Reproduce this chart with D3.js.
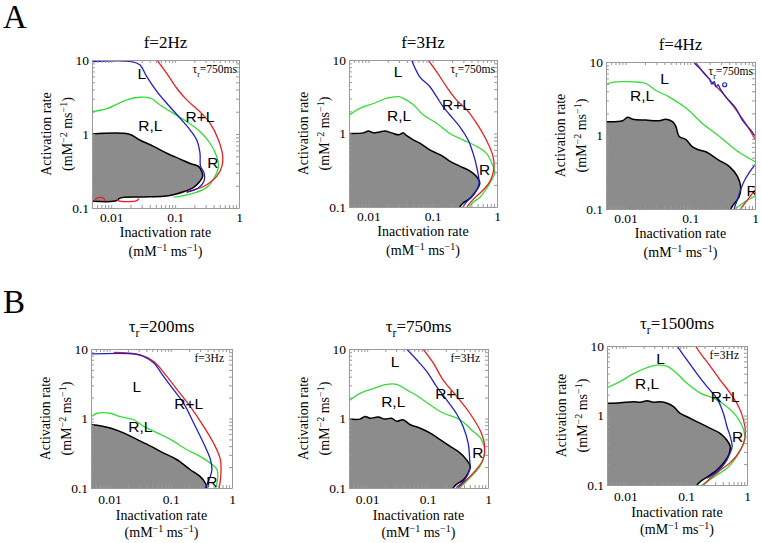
<!DOCTYPE html>
<html><head><meta charset="utf-8">
<script src="https://cdn.jsdelivr.net/npm/d3@7"></script>
<style>body{margin:0;background:#fff}svg{display:block}</style>
</head><body><svg id="c" width="761" height="543"></svg>
<script>
// ---------- data (inactivation rate, activation rate) ----------
const xTickValues = [0.01, 0.1, 1];
const xTickLabels = ["0.01", "0.1", "1"];
const yTickValues = [0.1, 1, 10];
const yTickLabels = ["0.1", "1", "10"];
const xDomain = [0.005, 1];
const yDomain = [0.1, 10];
const rowLetters = ["A", "B"];
const rowATitles = ["f=2Hz", "f=3Hz", "f=4Hz"];
const rowBTau = ["200ms", "750ms", "1500ms"];
const rowANote = "750ms";
const rowBNote = "f=3Hz";

// Panel A1 (f=2Hz)
const a1Boundary = [[0.005,1.0],[0.0187,1.0],[0.028,0.83],[0.046,0.68],[0.074,0.55],[0.12,0.458],[0.171,0.40],[0.233,0.365],[0.262,0.31],[0.27,0.267],[0.245,0.23],[0.195,0.19],[0.143,0.168],[0.094,0.151],[0.066,0.144],[0.028,0.141],[0.0138,0.136],[0.0123,0.127],[0.0109,0.123],[0.005,0.123]];
const a1Green = [[0.005,2.0],[0.0086,2.2],[0.0176,2.9],[0.028,3.14],[0.041,3.05],[0.058,2.47],[0.094,1.9],[0.152,1.47],[0.245,1.08],[0.352,0.75],[0.447,0.50],[0.477,0.365],[0.42,0.267],[0.313,0.19],[0.195,0.159],[0.12,0.144],[0.094,0.14]];
const a1Blue = [[0.005,9.5],[0.021,9.5],[0.028,8.6],[0.036,5.96],[0.052,3.74],[0.074,2.6],[0.12,1.63],[0.171,1.14],[0.218,0.83],[0.245,0.55],[0.25,0.365],[0.283,0.30],[0.283,0.23],[0.23,0.186],[0.152,0.163]];
const a1Red = [[0.052,10],[0.074,6.6],[0.106,4.15],[0.152,2.89],[0.245,2.0],[0.352,1.4],[0.477,0.83],[0.556,0.50],[0.54,0.365],[0.447,0.267],[0.313,0.206],[0.205,0.177],[0.15,0.165]];
const a1RedBump = [[0.0055,0.123],[0.0058,0.133],[0.0065,0.139],[0.0073,0.138],[0.0078,0.132],[0.008,0.123]];
const a1RedSeg = [[0.0123,0.134],[0.0128,0.126],[0.025,0.126],[0.027,0.134]];
const a1Labels = [["L",0.030,6.6],["R+L",0.245,1.72],["R,L",0.041,1.3],["R",0.39,0.41]];

// Panel A2 (f=3Hz)
const a2Boundary = [[0.005,1.0],[0.0084,1.02],[0.01,1.08],[0.012,1.02],[0.015,1.05],[0.018,1.08],[0.023,1.02],[0.03,0.96],[0.035,1.02],[0.039,0.94],[0.05,0.82],[0.063,0.74],[0.09,0.60],[0.115,0.54],[0.145,0.49],[0.184,0.42],[0.263,0.36],[0.377,0.31],[0.48,0.26],[0.54,0.21],[0.45,0.155],[0.377,0.13],[0.295,0.113],[0.263,0.1]];
const a2Green = [[0.005,1.78],[0.0074,2.2],[0.012,2.56],[0.019,3.0],[0.03,3.17],[0.035,3.0],[0.05,2.46],[0.071,1.8],[0.115,1.38],[0.184,1.0],[0.295,0.82],[0.48,0.67],[0.68,0.54],[0.867,0.36],[0.92,0.29],[0.72,0.19],[0.54,0.135],[0.424,0.116],[0.37,0.1]];
const a2Blue = [[0.047,10],[0.063,5.9],[0.09,4.36],[0.115,3.17],[0.145,2.32],[0.184,1.8],[0.263,1.24],[0.354,0.82],[0.424,0.54],[0.48,0.36],[0.526,0.21],[0.48,0.17],[0.40,0.135],[0.34,0.119],[0.295,0.1]];
const a2Red = [[0.085,10],[0.115,6.95],[0.163,4.36],[0.234,2.87],[0.34,2.1],[0.48,1.38],[0.68,0.82],[0.867,0.49],[0.89,0.32],[0.77,0.22],[0.61,0.17],[0.424,0.126],[0.34,0.1]];
const a2Labels = [["L",0.029,7],["R+L",0.234,2.46],["R,L",0.030,1.78],["R",0.64,0.32]];

// Panel A3 (f=4Hz)
const a3Boundary = [[0.005,1.54],[0.009,1.59],[0.0108,1.77],[0.013,1.66],[0.0207,1.62],[0.033,1.59],[0.042,1.66],[0.053,1.54],[0.06,1.33],[0.067,0.98],[0.086,0.88],[0.108,0.70],[0.137,0.635],[0.174,0.6],[0.279,0.46],[0.40,0.38],[0.535,0.277],[0.6,0.203],[0.57,0.148],[0.447,0.109],[0.42,0.1]];
const a3Green = [[0.005,4.93],[0.0063,5.3],[0.0102,5.4],[0.0163,5.3],[0.0207,5.1],[0.0295,4.1],[0.047,3.36],[0.086,2.36],[0.154,1.46],[0.279,0.98],[0.505,0.635],[0.81,0.49],[1.0,0.44]];
const a3GreenLow = [[0.5,0.1],[0.55,0.108],[0.7,0.125],[1.0,0.15]];
const a3Blue = [[0.115,9.7],[0.14,8.2],[0.174,6.6],[0.2,5.8],[0.215,5.0],[0.235,5.4],[0.25,4.6],[0.27,4.9],[0.29,4.3],[0.354,3.36],[0.505,2.36],[0.637,1.62],[0.857,1.19],[1.0,0.98]];
const a3BlueDot = [[0.34,4.9]];
const a3BlueLow = [[1.0,0.4],[0.81,0.31],[0.676,0.237],[0.6,0.183],[0.535,0.134],[0.474,0.1]];
const a3Red = [[0.122,9.7],[0.195,5.9],[0.354,3.36],[0.637,1.7],[0.985,0.91],[1.0,0.88]];
const a3RedLow = [[0.6,0.1],[0.75,0.13],[1.0,0.18]];
const a3Labels = [["L",0.04,5.9],["R,L",0.018,3.5],["R",0.9,0.18]];

// Panel B1 (tau_r=200ms)
const b1Boundary = [[0.005,0.81],[0.0063,0.80],[0.0103,0.73],[0.017,0.62],[0.028,0.50],[0.047,0.40],[0.077,0.318],[0.127,0.255],[0.209,0.183],[0.30,0.147],[0.367,0.118],[0.39,0.1]];
const b1Green = [[0.005,1.06],[0.0063,1.19],[0.0103,1.19],[0.015,1.06],[0.025,0.96],[0.036,0.77],[0.06,0.62],[0.099,0.50],[0.184,0.355],[0.30,0.285],[0.443,0.228],[0.57,0.183],[0.58,0.13],[0.54,0.1]];
const b1Blue = [[0.005,8.5],[0.025,8.5],[0.036,7.8],[0.053,6.27],[0.077,4.0],[0.111,2.6],[0.162,1.66],[0.237,0.86],[0.344,0.44],[0.443,0.26],[0.47,0.183],[0.42,0.13],[0.367,0.1]];
const b1Red = [[0.0118,8.9],[0.032,8.2],[0.053,6.6],[0.087,4.0],[0.127,2.6],[0.209,1.48],[0.344,0.77],[0.502,0.44],[0.645,0.26],[0.66,0.164],[0.62,0.1]];
const b1Labels = [["L",0.028,2.9],["R+L",0.197,1.66],["R,L",0.032,0.77],["R",0.47,0.125]];

// Panel B2 (tau_r=750ms)
const b2Boundary = [[0.005,0.98],[0.0076,0.98],[0.0092,1.07],[0.0111,1.01],[0.0153,1.05],[0.0196,0.98],[0.0253,1.01],[0.031,0.91],[0.039,0.96],[0.051,0.82],[0.074,0.73],[0.109,0.62],[0.159,0.50],[0.233,0.40],[0.344,0.32],[0.438,0.256],[0.51,0.205],[0.47,0.164],[0.387,0.13],[0.296,0.112],[0.264,0.1]];
const b2Green = [[0.005,1.8],[0.0076,2.3],[0.0126,2.7],[0.021,3.1],[0.031,3.1],[0.045,2.58],[0.066,2.14],[0.109,1.58],[0.18,1.2],[0.344,0.96],[0.53,0.69],[0.776,0.50],[0.88,0.32],[0.73,0.205],[0.53,0.147],[0.387,0.112],[0.344,0.1]];
const b2Blue = [[0.045,10],[0.066,7],[0.096,4.8],[0.14,2.9],[0.205,1.87],[0.296,1.2],[0.387,0.77],[0.47,0.44],[0.497,0.256],[0.497,0.184],[0.41,0.13],[0.344,0.112],[0.296,0.1]];
const b2Red = [[0.084,10],[0.124,6.3],[0.18,3.6],[0.296,2.14],[0.497,1.2],[0.776,0.62],[0.88,0.40],[0.826,0.256],[0.64,0.184],[0.438,0.13],[0.32,0.1]];
const b2Labels = [["L",0.029,6.6],["R+L",0.233,2.3],["R,L",0.027,1.76],["R",0.68,0.32]];

// Panel B3 (tau_r=1500ms)
const b3Boundary = [[0.005,1.5],[0.0083,1.53],[0.0137,1.58],[0.0177,1.55],[0.0228,1.63],[0.029,1.55],[0.038,1.58],[0.049,1.5],[0.062,1.34],[0.08,1.07],[0.103,0.96],[0.133,0.86],[0.22,0.69],[0.366,0.55],[0.469,0.44],[0.53,0.36],[0.50,0.27],[0.41,0.205],[0.32,0.164],[0.22,0.13],[0.171,0.112],[0.15,0.1]];
const b3Green = [[0.005,2.5],[0.0083,3.1],[0.0137,4.0],[0.0228,4.9],[0.033,5.3],[0.049,5.1],[0.071,4.0],[0.103,2.9],[0.171,2.1],[0.283,1.76],[0.469,1.34],[0.68,0.96],[0.88,0.62],[0.91,0.44],[0.776,0.32],[0.62,0.23],[0.469,0.174],[0.32,0.14],[0.22,0.112],[0.18,0.1]];
const b3Blue = [[0.071,10],[0.103,6.3],[0.15,4.0],[0.22,2.6],[0.32,1.76],[0.41,1.07],[0.469,0.69],[0.53,0.5],[0.57,0.36],[0.53,0.29],[0.44,0.21],[0.32,0.155],[0.22,0.125]];
const b3Red = [[0.142,10],[0.171,7.9],[0.25,5.1],[0.366,3.2],[0.53,2.1],[0.73,1.34],[0.88,0.86],[0.94,0.55],[0.88,0.40],[0.73,0.29],[0.53,0.21],[0.366,0.164],[0.25,0.125],[0.194,0.1]];
const b3Labels = [["L",0.038,6.6],["R,L",0.0228,2.9],["R+L",0.44,1.87],["R",0.70,0.50]];

// ---------- layout / style ----------
const serif = "'Liberation Serif','Times New Roman',Times,serif";
const sans = "'Liberation Sans',Arial,Helvetica,sans-serif";
const C = {red:"#ec1f1f", blue:"#2020c8", green:"#33dd33", black:"#000", fill:"#8c8c8c", frame:"#9a9a9a"};

const panels = [
  {row:0, idx:0, box:[92,60,147,148], boundary:a1Boundary, green:[a1Green], red:[a1Red,a1RedBump,a1RedSeg], blue:[a1Blue], dots:[], labels:a1Labels},
  {row:0, idx:1, box:[349,60,148,147], boundary:a2Boundary, green:[a2Green], red:[a2Red], blue:[a2Blue], dots:[], labels:a2Labels},
  {row:0, idx:2, box:[606,62,149,147], boundary:a3Boundary, green:[a3Green,a3GreenLow], red:[a3Red,a3RedLow], blue:[a3Blue,a3BlueLow], dots:a3BlueDot, labels:a3Labels},
  {row:1, idx:0, box:[91,349,141,139], boundary:b1Boundary, green:[b1Green], red:[b1Red], blue:[b1Blue], dots:[], labels:b1Labels},
  {row:1, idx:1, box:[349,349,139,139], boundary:b2Boundary, green:[b2Green], red:[b2Red], blue:[b2Blue], dots:[], labels:b2Labels},
  {row:1, idx:2, box:[607,346,140,139], boundary:b3Boundary, green:[b3Green], red:[b3Red], blue:[b3Blue], dots:[], labels:b3Labels}
];

const svg = d3.select("#c");
svg.append("rect").attr("width",761).attr("height",543).attr("fill","#fff");

// panel letters
svg.append("text").attr("x",3).attr("y",28).attr("font-family",serif).attr("font-size",33).text(rowLetters[0]);
svg.append("text").attr("x",3).attr("y",313).attr("font-family",serif).attr("font-size",33).text(rowLetters[1]);

function minorTicks(lo, hi){
  const out=[];
  for(let e=-3;e<=1;e++){for(let m=1;m<10;m++){const v=m*Math.pow(10,e); if(v>=lo*0.9999 && v<=hi*1.0001) out.push(+v.toPrecision(6));}}
  return out;
}
const xMinor = minorTicks(xDomain[0], xDomain[1]);
const yMinor = minorTicks(yDomain[0], yDomain[1]);
function majorLabel(vals, labels){
  return d => { const i = vals.findIndex(v => Math.abs(v-d)/v < 1e-6); return i>=0 ? labels[i] : ""; };
}

function tauText(sel, rest, size){
  sel.append("tspan").text("τ");
  sel.append("tspan").attr("font-size", size*0.68).attr("dy", size*0.32).text("r");
  sel.append("tspan").attr("font-size", size).attr("dy", -size*0.32).text(rest);
}

panels.forEach((p,k) => {
  const [L,T,W,H] = p.box;
  const x = d3.scaleLog().domain(xDomain).range([0,W]);
  const y = d3.scaleLog().domain(yDomain).range([H,0]);
  const g = svg.append("g").attr("transform",`translate(${L},${T})`);
  const cid = "clip"+k;
  g.append("clipPath").attr("id",cid).append("rect").attr("width",W).attr("height",H);
  const plot = g.append("g").attr("clip-path",`url(#${cid})`);

  const line = d3.line().x(d=>x(d[0])).y(d=>y(d[1])).curve(d3.curveCatmullRom.alpha(0.5));
  // gray region
  const poly = p.boundary.slice();
  if (poly[poly.length-1][1] <= yDomain[0]*1.0001) poly.push([xDomain[0], yDomain[0]]);
  const area = d3.line().x(d=>x(d[0])).y(d=>y(d[1])).curve(d3.curveCatmullRom.alpha(0.5));
  plot.append("path").attr("d", area(poly)+"Z").attr("fill",C.fill).attr("stroke","none");
  plot.append("path").attr("d", line(p.boundary)).attr("fill","none").attr("stroke",C.black).attr("stroke-width",1.5);
  p.green.forEach(s => plot.append("path").attr("d",line(s)).attr("fill","none").attr("stroke",C.green).attr("stroke-width",1.3));
  p.red.forEach(s => plot.append("path").attr("d",line(s)).attr("fill","none").attr("stroke",C.red).attr("stroke-width",1.3));
  p.blue.forEach(s => plot.append("path").attr("d",line(s)).attr("fill","none").attr("stroke",C.blue).attr("stroke-width",1.3));
  p.dots.forEach(d => plot.append("circle").attr("cx",x(d[0])).attr("cy",y(d[1])).attr("r",2).attr("fill","none").attr("stroke",C.blue).attr("stroke-width",1.2));
  // region labels
  p.labels.forEach(l => plot.append("text").attr("x",x(l[1])).attr("y",y(l[2])).attr("dy","0.36em")
     .attr("text-anchor","middle").attr("font-family",sans).attr("font-size",15.5).attr("fill","#000").text(l[0]));

  // axes with inward minor ticks
  const xo = p.row===0 ? 4.5 : 6.5;
  const axB = d3.axisBottom(x).tickValues(xMinor).tickSizeInner(-3).tickSizeOuter(0).tickPadding(xo).tickFormat(majorLabel(xTickValues,xTickLabels));
  const axT = d3.axisTop(x).tickValues(xMinor).tickSizeInner(-3).tickSizeOuter(0).tickFormat("");
  const axL = d3.axisLeft(y).tickValues(yMinor).tickSizeInner(-3).tickSizeOuter(0).tickPadding(3).tickFormat(majorLabel(yTickValues,yTickLabels));
  const axR = d3.axisRight(y).tickValues(yMinor).tickSizeInner(-3).tickSizeOuter(0).tickFormat("");
  const styleAxis = a => { a.selectAll("path,line").attr("stroke",C.frame); a.selectAll("text").attr("font-family",serif).attr("font-size",13.5).attr("fill","#000"); };
  styleAxis(g.append("g").attr("transform",`translate(0,${H})`).call(axB));
  styleAxis(g.append("g").call(axT));
  styleAxis(g.append("g").call(axL));
  styleAxis(g.append("g").attr("transform",`translate(${W},0)`).call(axR));

  // titles
  if (p.row===0){
    g.append("text").attr("x",W/2).attr("y",-12).attr("text-anchor","middle").attr("font-family",serif).attr("font-size",17).text(rowATitles[p.idx]);
    const n = g.append("text").attr("x",W-2).attr("y",13).attr("text-anchor","end").attr("font-family",serif).attr("font-size",11.5);
    tauText(n, "="+rowANote, 11.5);
  } else {
    const t = g.append("text").attr("x",W/2).attr("y",-17).attr("text-anchor","middle").attr("font-family",serif).attr("font-size",17);
    tauText(t, "="+rowBTau[p.idx], 17);
    g.append("text").attr("x",W-8).attr("y",13).attr("text-anchor","end").attr("font-family",serif).attr("font-size",11.5).text(rowBNote);
  }

  // axis titles
  const t1 = p.row===0 ? 29 : 32, t2 = p.row===0 ? 48 : 49;
  g.append("text").attr("x",W/2).attr("y",H+t1).attr("text-anchor","middle").attr("font-family",serif).attr("font-size",14).text("Inactivation rate");
  const u = g.append("text").attr("x",W/2).attr("y",H+t2).attr("text-anchor","middle").attr("font-family",serif).attr("font-size",14);
  u.append("tspan").text("(mM");
  u.append("tspan").attr("font-size",10).attr("dy",-5).text("−1");
  u.append("tspan").attr("dy",5).text(" ms");
  u.append("tspan").attr("font-size",10).attr("dy",-5).text("−1");
  u.append("tspan").attr("dy",5).text(")");

  const ya = g.append("text").attr("transform",`translate(-41,${H/2}) rotate(-90)`).attr("text-anchor","middle").attr("font-family",serif).attr("font-size",14).text("Activation rate");
  const yb = g.append("text").attr("transform",`translate(-20,${H/2}) rotate(-90)`).attr("text-anchor","middle").attr("font-family",serif).attr("font-size",14);
  yb.append("tspan").text("(mM");
  yb.append("tspan").attr("font-size",10).attr("dy",-5).text("−2");
  yb.append("tspan").attr("dy",5).text(" ms");
  yb.append("tspan").attr("font-size",10).attr("dy",-5).text("−1");
  yb.append("tspan").attr("dy",5).text(")");
});
</script></body></html>
